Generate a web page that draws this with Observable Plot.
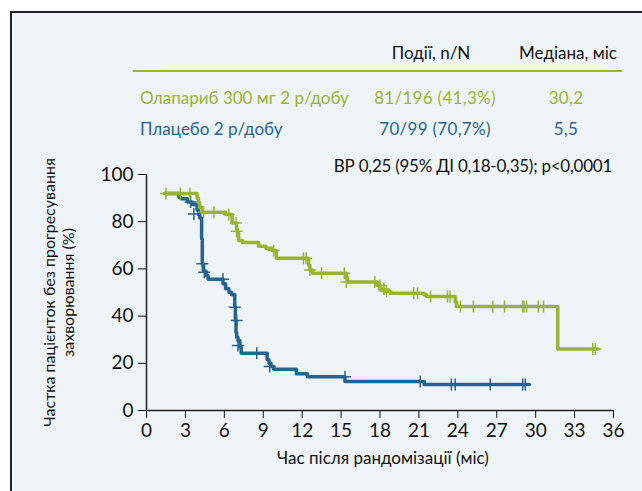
<!DOCTYPE html>
<html><head><meta charset="utf-8">
<script src="https://cdn.jsdelivr.net/npm/d3@7"></script>
<script src="https://cdn.jsdelivr.net/npm/@observablehq/plot@0.6"></script>
<style>
html,body{margin:0;padding:0;width:642px;height:491px;overflow:hidden;background:#fff;font-family:Lato,"Open Sans",sans-serif;color:#111;}
#frame{position:absolute;left:10px;top:11px;width:700px;height:600px;border-left:2px solid #222;border-top:2px solid #222;background:#eff4f8;}
.t{position:absolute;white-space:nowrap;font-size:17px;line-height:20px;}
.c{transform:translateX(-50%);}
.r{transform:translateX(-100%);}
.n{letter-spacing:0.3px;}
#sep{position:absolute;left:133px;top:70px;width:489px;height:2px;}
#chart{position:absolute;left:0;top:140px;}
</style></head>
<body>
<div id="frame"></div>
<div id="hdr"></div>
<div id="sep"></div>
<div id="chart"></div>
<script>
// ---- data ----
const tableHeaders = ["Події, n/N", "Медіана, міс"];
const groups = ["Олапариб 300 мг 2 р/добу", "Плацебо 2 р/добу"];
const events = ["81/196 (41,3%)", "70/99 (70,7%)"];
const medians = ["30,2", "5,5"];
const hrText = "ВР 0,25 (95% ДІ 0,18-0,35); p<0,0001";
const xLabel = "Час після рандомізації (міс)";
const yLabel = "Частка пацієнток без прогресування\nзахворювання (%)";
const xTicks = [0, 3, 6, 9, 12, 15, 18, 21, 24, 27, 30, 33, 36];
const yTicks = [0, 20, 40, 60, 80, 100];

// Olaparib KM steps (months, % PFS)
const olaTime = [1.4, 3.9, 4.0, 4.1, 4.3, 6.1, 6.6, 6.95, 7.0, 7.1, 7.4, 8.65, 9.2, 9.7, 10.0, 12.5, 12.6, 12.8, 15.4, 15.5, 17.8, 18.0, 18.3, 18.8, 21.4, 21.6, 23.8, 23.9, 31.7, 34.8];
const olaSurv = [92, 90, 88, 86, 84, 83, 79.4, 77, 75, 72, 71.2, 69.6, 68.8, 67.8, 64.5, 61.5, 59.5, 58.2, 56.2, 54.4, 53, 51.5, 50.5, 49.7, 49, 48.3, 46, 44.1, 26.1, 26.1];
const olaCensTime = [1.5, 2.6, 3.35, 4.4, 5.2, 6.35, 6.9, 6.95, 9.8, 12.1, 12.3, 12.6, 13.5, 15.25, 15.4, 17.6, 18.0, 18.3, 18.5, 20.6, 20.9, 21.9, 23.2, 23.4, 24.2, 25.2, 26.7, 27.6, 29.0, 29.1, 29.3, 30.2, 30.6, 34.4, 34.6];
const olaCensSurv = [92, 92, 92, 84, 84, 83, 79.4, 76, 67.8, 64.5, 64.5, 59.5, 58.2, 58.2, 54.4, 54.4, 53, 51.5, 50.5, 49.7, 49.7, 48.3, 48.3, 48.3, 44.1, 44.1, 44.1, 44.1, 44.1, 44.1, 44.1, 44.1, 44.1, 26.1, 26.1];

// Placebo KM steps
const plaTime = [1.4, 2.5, 2.65, 3.15, 3.5, 3.9, 4.0, 4.1, 4.25, 4.3, 4.4, 4.6, 4.75, 5.9, 6.1, 6.35, 6.55, 6.8, 6.85, 6.9, 6.95, 7.05, 7.2, 7.3, 9.3, 9.45, 9.6, 9.8, 11.55, 12.4, 15.3, 21.4, 29.5];
const plaSurv = [92, 90.4, 89.7, 88.3, 87.3, 85, 83, 81.6, 72.7, 62, 59, 57.2, 55.6, 53.7, 51.6, 50.1, 49.2, 44, 38, 33, 31, 29.7, 26.8, 24.3, 21.5, 20, 18.6, 17.5, 15.6, 14.3, 12.3, 11.0, 11.0];
const plaCensTime = [3.4, 3.65, 4.3, 4.45, 5.9, 6.8, 6.95, 7.05, 8.5, 9.5, 15.3, 21.1, 23.5, 23.8, 26.5, 29.0, 29.2];
const plaCensSurv = [88.3, 83.3, 62.2, 58.6, 55.6, 43.8, 38.1, 27.5, 24.3, 18.6, 14.3, 12.3, 11.0, 11.0, 11.0, 11.0, 11.0];

const green = "#98b532";
const blue = "#276391";
const groupColors = [green, blue];

// ---- header (HTML) ----
const hdr = document.getElementById("hdr");
function addText(txt, left, cy, cls, color) {
  const d = document.createElement("div");
  d.className = "t " + (cls || "");
  d.textContent = txt;
  d.style.left = left + "px";
  d.style.top = (cy - 10) + "px";
  if (color) d.style.color = color;
  hdr.appendChild(d);
  return d;
}
addText(tableHeaders[0], 431, 53, "c");
addText(tableHeaders[1], 568, 53, "c");
groups.forEach((g, i) => {
  const cy = [98, 129][i];
  addText(g, 140, cy, "", groupColors[i]);
  addText(events[i], 435, cy, "c n", groupColors[i]);
  addText(medians[i], 566, cy, "c n", groupColors[i]);
});
const hr = addText(hrText, 612, 166, "r");
hr.style.letterSpacing = "-0.25px";
document.getElementById("sep").style.background = green;

// ---- chart ----
const olaLine = olaTime.map((t, i) => ({t, s: olaSurv[i]}));
const plaLine = plaTime.map((t, i) => ({t, s: plaSurv[i]}));
const olaCens = olaCensTime.map((t, i) => ({t, s: olaCensSurv[i]}));
const plaCens = plaCensTime.map((t, i) => ({t, s: plaCensSurv[i]}));

const plus = {
  draw(context, size) {
    const r = Math.sqrt(size / Math.PI);
    context.moveTo(-r, 0); context.lineTo(r, 0);
    context.moveTo(0, -r); context.lineTo(0, r);
  }
};

const chart = Plot.plot({
  width: 642,
  height: 340,
  marginLeft: 146,
  marginRight: 29,
  marginTop: 34,
  marginBottom: 70,
  style: {background: "transparent", fontSize: "19px", fontFamily: "Lato, 'Open Sans', sans-serif", color: "#111"},
  x: {domain: [0, 36], ticks: xTicks, tickSize: 8, tickPadding: 5, label: null},
  y: {domain: [0, 100], ticks: yTicks, tickSize: 8, tickPadding: 5, label: null},
  marks: [
    Plot.ruleX([0], {y1: 0, y2: 100, stroke: "#222", strokeWidth: 1.5}),
    Plot.ruleY([0], {x1: 0, x2: 36, stroke: "#222", strokeWidth: 1.5}),
    Plot.line(plaLine, {x: "t", y: "s", curve: "step-after", stroke: blue, strokeWidth: 3.5}),
    Plot.line(olaLine, {x: "t", y: "s", curve: "step-after", stroke: green, strokeWidth: 3.5}),
    Plot.dot(plaCens, {x: "t", y: "s", symbol: plus, r: 6, stroke: blue, fill: "none", strokeWidth: 1.5}),
    Plot.dot(olaCens, {x: "t", y: "s", symbol: plus, r: 6, stroke: green, fill: "none", strokeWidth: 1.5}),
    Plot.text([xLabel], {text: d => d, frameAnchor: "bottom", dy: 53, dx: 3, fontSize: 17, fill: "#111"}),
    Plot.text([yLabel], {text: d => d, frameAnchor: "left", textAnchor: "middle", lineAnchor: "middle", rotate: -90, dx: -88, lineHeight: 1.2, fontSize: 16, fill: "#111"})
  ]
});
document.getElementById("chart").appendChild(chart);
</script>
</body></html>
